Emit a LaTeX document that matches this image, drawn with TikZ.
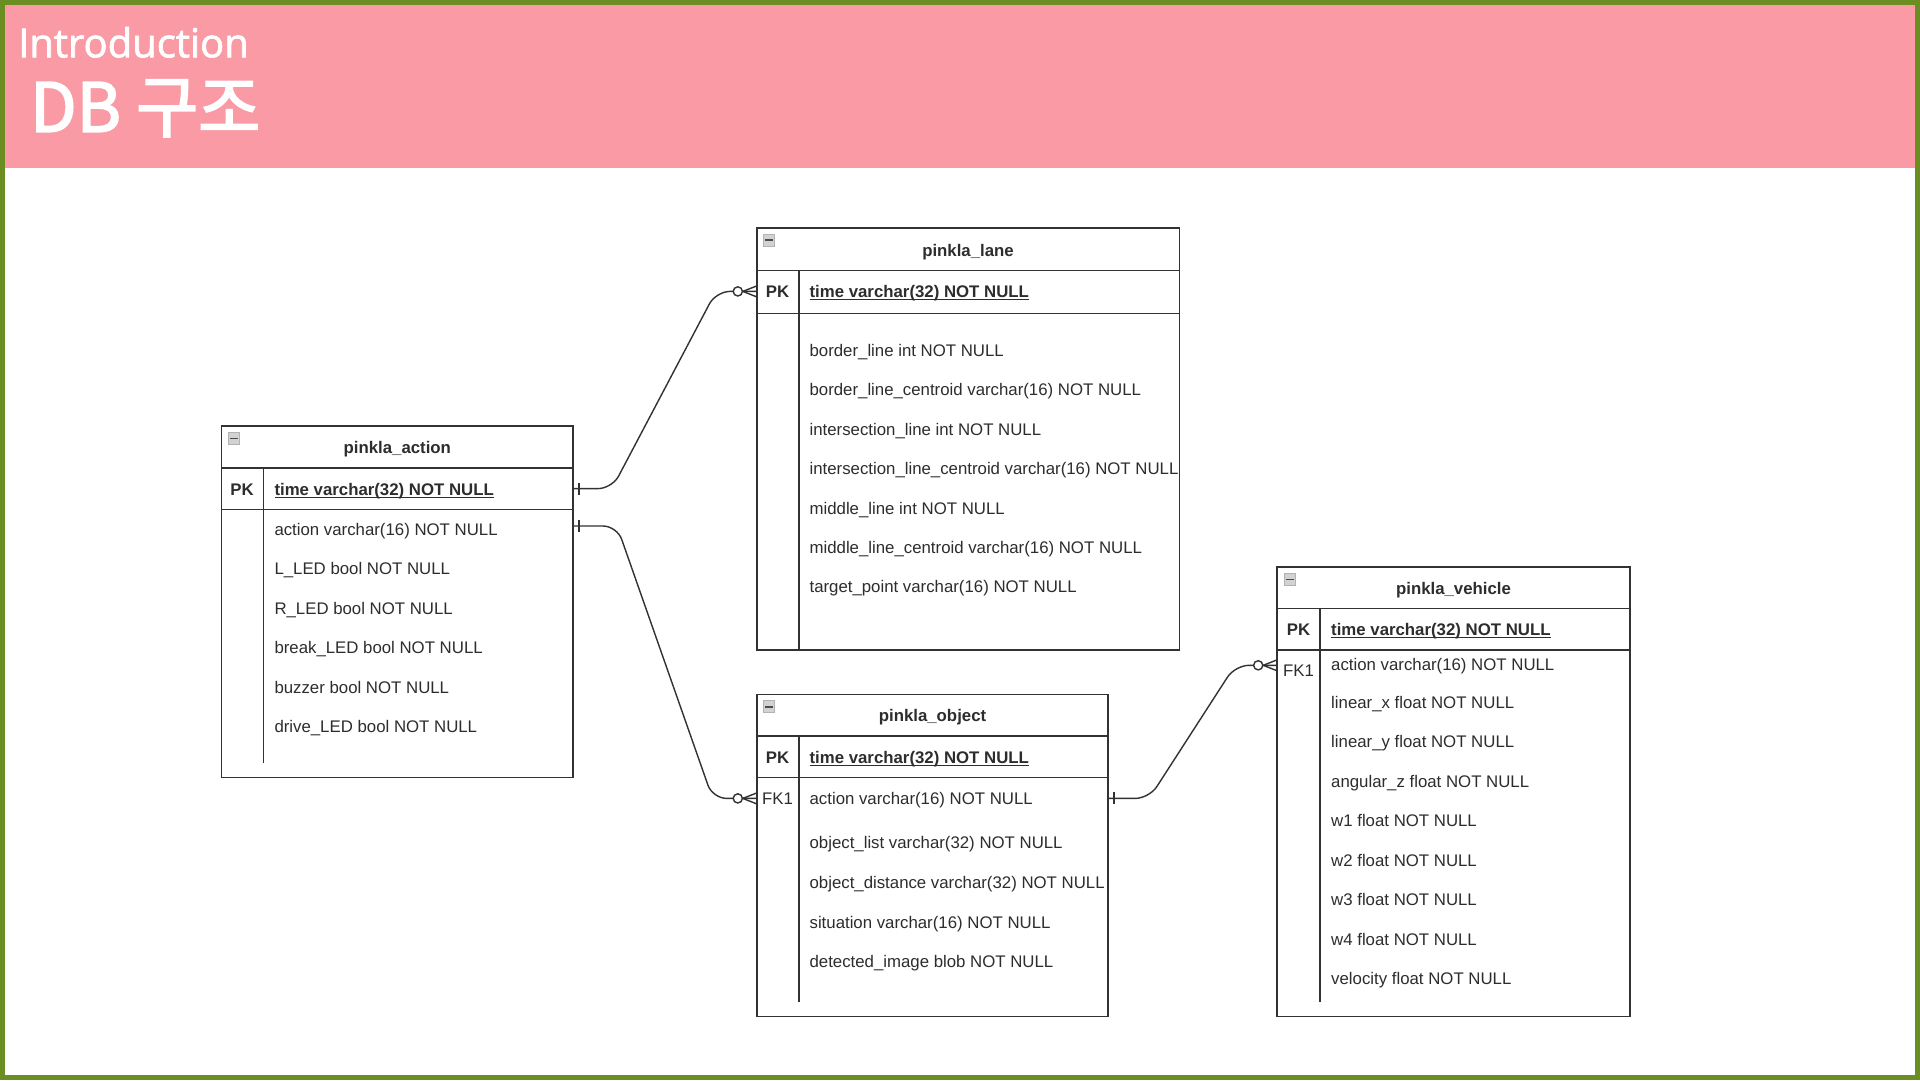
\documentclass[tikz,border=0pt]{standalone}
\usepackage{fontspec}
\setmainfont{Liberation Sans}
\newfontfamily\hdrfont[FakeBold=1.8]{Open Sans}
\newfontfamily\krfont[FakeBold=2.6]{Noto Sans CJK KR}
\definecolor{frame}{RGB}{107,142,35}
\definecolor{hdrpink}{RGB}{249,154,164}
\definecolor{ink}{RGB}{45,45,45}
\definecolor{edge}{RGB}{50,50,50}
\newcommand\ulfield[1]{\setbox0\hbox{#1}\rlap{\rule[-2.6pt]{\wd0}{1.1pt}}\box0}
\tikzset{
  tblbox/.style={draw=edge, line width=1.5pt, fill=white, anchor=north west, inner sep=0pt, outer sep=0pt},
  tline/.style={draw=edge, line width=1.5pt},
  ttitle/.style={font=\fontsize{16.8}{20}\selectfont\bfseries, text=ink, inner sep=0pt, anchor=base},
  tkey/.style={font=\fontsize{16.8}{20}\selectfont\bfseries, text=ink, inner sep=0pt, anchor=base},
  tfk/.style={font=\fontsize{16.8}{20}\selectfont, text=ink, inner sep=0pt, anchor=base},
  tfield/.style={font=\fontsize{16.8}{20}\selectfont, text=ink, inner sep=0pt, anchor=base west},
  tpk/.style={font=\fontsize{16.8}{20}\selectfont\bfseries, text=ink, inner sep=0pt, anchor=base west},
  conn/.style={draw=edge, line width=1.4pt, rounded corners=14pt},
  sym/.style={draw=edge, line width=1.4pt},
}
\newcommand\tblicon[2]{%
  \fill[gray!35] (#1,#2) rectangle ++(11,12);
  \draw[gray!60, line width=0.6pt] (#1,#2) rectangle ++(11,12);
  \draw[black!70, line width=1.6pt] (#1+1.5,#2+6) -- ++(8,0);
}
\begin{document}
\begin{tikzpicture}[x=1pt,y=-1pt]
\useasboundingbox (0,0) rectangle (1920,1080);
\fill[frame] (0,0) rectangle (1920,1080);
\fill[white] (5,5) rectangle (1915,1075);
\fill[hdrpink] (5,5) rectangle (1915,168);
\node[anchor=base west, inner sep=0pt, text=white, font=\hdrfont\fontsize{40}{44}\selectfont] (intro) at (18,57.3) {Introduction};
\node[anchor=base west, inner sep=0pt, text=white, font=\krfont\fontsize{67.5}{72}\selectfont] (dbtitle) at (30,131.7) {DB 구조};

% ---------- pinkla_action ----------
\node[tblbox, minimum width=351.5pt, minimum height=351.5pt] (action) at (221.6,426.1) {};
\draw[tline] (221.6,467.8) -- (573.1,467.8);
\draw[tline] (221.6,509.4) -- (573.1,509.4);
\draw[tline] (263.3,467.8) -- (263.3,762.9);
\tblicon{228.5}{432.5}
\node[ttitle] (actTitle) at (397.3,453.3) {pinkla\_action};
\node[tkey] (actPK) at (242,495) {PK};
\node[tpk] (actTime) at (274.3,495) {\ulfield{time varchar(32) NOT NULL}};
\node[tfield] (actA1) at (274.3,535.5) {action varchar(16) NOT NULL};
\node[tfield] (actA2) at (274.3,574.9) {L\_LED bool NOT NULL};
\node[tfield] (actA3) at (274.3,614.3) {R\_LED bool NOT NULL};
\node[tfield] (actA4) at (274.3,653.7) {break\_LED bool NOT NULL};
\node[tfield] (actA5) at (274.3,693.1) {buzzer bool NOT NULL};
\node[tfield] (actA6) at (274.3,732.5) {drive\_LED bool NOT NULL};

% ---------- pinkla_lane ----------
\node[tblbox, minimum width=422.5pt, minimum height=422.4pt] (lane) at (756.8,227.8) {};
\draw[tline] (756.8,270.6) -- (1179.3,270.6);
\draw[tline] (756.8,313.5) -- (1179.3,313.5);
\draw[tline] (799.2,270.6) -- (799.2,650.2);
\tblicon{763.5}{234.2}
\node[ttitle] (laneTitle) at (968,256) {pinkla\_lane};
\node[tkey] (lanePK) at (777.5,297.8) {PK};
\node[tpk] (laneTime) at (809.4,297.8) {\ulfield{time varchar(32) NOT NULL}};
\node[tfield] (laneA1) at (809.4,356.4) {border\_line int NOT NULL};
\node[tfield] (laneA2) at (809.4,395.8) {border\_line\_centroid varchar(16) NOT NULL};
\node[tfield] (laneA3) at (809.4,435.2) {intersection\_line int NOT NULL};
\node[tfield] (laneA4) at (809.4,474.6) {intersection\_line\_centroid varchar(16) NOT NULL};
\node[tfield] (laneA5) at (809.4,514) {middle\_line int NOT NULL};
\node[tfield] (laneA6) at (809.4,553.4) {middle\_line\_centroid varchar(16) NOT NULL};
\node[tfield] (laneA7) at (809.4,592.8) {target\_point varchar(16) NOT NULL};

% ---------- pinkla_object ----------
\node[tblbox, minimum width=351.4pt, minimum height=322pt] (object) at (756.8,694.3) {};
\draw[tline] (756.8,735.9) -- (1108.2,735.9);
\draw[tline] (756.8,777.6) -- (1108.2,777.6);
\draw[tline] (799.2,735.9) -- (799.2,1001.6);
\tblicon{763.5}{700.7}
\node[ttitle] (objTitle) at (932.5,721.4) {pinkla\_object};
\node[tkey] (objPK) at (777.5,763) {PK};
\node[tpk] (objTime) at (809.4,763) {\ulfield{time varchar(32) NOT NULL}};
\node[tfk] (objFK) at (777.5,804.6) {FK1};
\node[tfield] (objA1) at (809.4,804.6) {action varchar(16) NOT NULL};
\node[tfield] (objA2) at (809.4,848.6) {object\_list varchar(32) NOT NULL};
\node[tfield] (objA3) at (809.4,888) {object\_distance varchar(32) NOT NULL};
\node[tfield] (objA4) at (809.4,928) {situation varchar(16) NOT NULL};
\node[tfield] (objA5) at (809.4,967.4) {detected\_image blob NOT NULL};

% ---------- pinkla_vehicle ----------
\node[tblbox, minimum width=352.7pt, minimum height=449.3pt] (vehicle) at (1277.2,567) {};
\draw[tline] (1277.2,608.6) -- (1629.9,608.6);
\draw[tline] (1277.2,650.2) -- (1629.9,650.2);
\draw[tline] (1320.1,608.6) -- (1320.1,1001.6);
\tblicon{1284}{573.5}
\node[ttitle] (vehTitle) at (1453.5,594) {pinkla\_vehicle};
\node[tkey] (vehPK) at (1298.5,635.7) {PK};
\node[tpk] (vehTime) at (1331,635.7) {\ulfield{time varchar(32) NOT NULL}};
\node[tfk] (vehFK) at (1298.5,676) {FK1};
\node[tfield] (vehA1) at (1331,670) {action varchar(16) NOT NULL};
\node[tfield] (vehA2) at (1331,708.3) {linear\_x float NOT NULL};
\node[tfield] (vehA3) at (1331,747.8) {linear\_y float NOT NULL};
\node[tfield] (vehA4) at (1331,787.3) {angular\_z float NOT NULL};
\node[tfield] (vehA5) at (1331,826.8) {w1 float NOT NULL};
\node[tfield] (vehA6) at (1331,866.3) {w2 float NOT NULL};
\node[tfield] (vehA7) at (1331,905.8) {w3 float NOT NULL};
\node[tfield] (vehA8) at (1331,945.3) {w4 float NOT NULL};
\node[tfield] (vehA9) at (1331,984.8) {velocity float NOT NULL};

% ---------- connectors ----------
\coordinate (c1s) at (action.east |- 0,488.6);
\coordinate (c1e) at (lane.west |- 0,291.4);
\coordinate (c2s) at (action.east |- 0,526);
\coordinate (c2e) at (object.west |- 0,798.4);
\coordinate (c3s) at (object.east |- 0,798.4);
\coordinate (c3e) at (vehicle.west |- 0,665.3);

\draw[conn] (c1s) -- (612,488.6) -- (716,291.4) -- (c1e);
\draw[conn] (c2s) -- (617,526) -- (712.6,798.4) -- (c2e);
\draw[conn] (c3s) -- (1149.2,798.4) -- (1235.1,665.3) -- (c3e);

% one-marks
\foreach \p in {c1s,c2s,c3s}{
  \draw[sym] ([shift={(5.8,-6)}]\p) -- ([shift={(5.8,6)}]\p);
}
% zero-or-many marks
\foreach \p in {c1e,c2e,c3e}{
  \draw[sym] ([shift={(-14,0)}]\p) -- ([shift={(0,-5.5)}]\p);
  \draw[sym] ([shift={(-14,0)}]\p) -- ([shift={(0,5.5)}]\p);
  \draw[sym, fill=white] ([shift={(-19,0)}]\p) circle (4.6pt);
}
\end{tikzpicture}
\end{document}
